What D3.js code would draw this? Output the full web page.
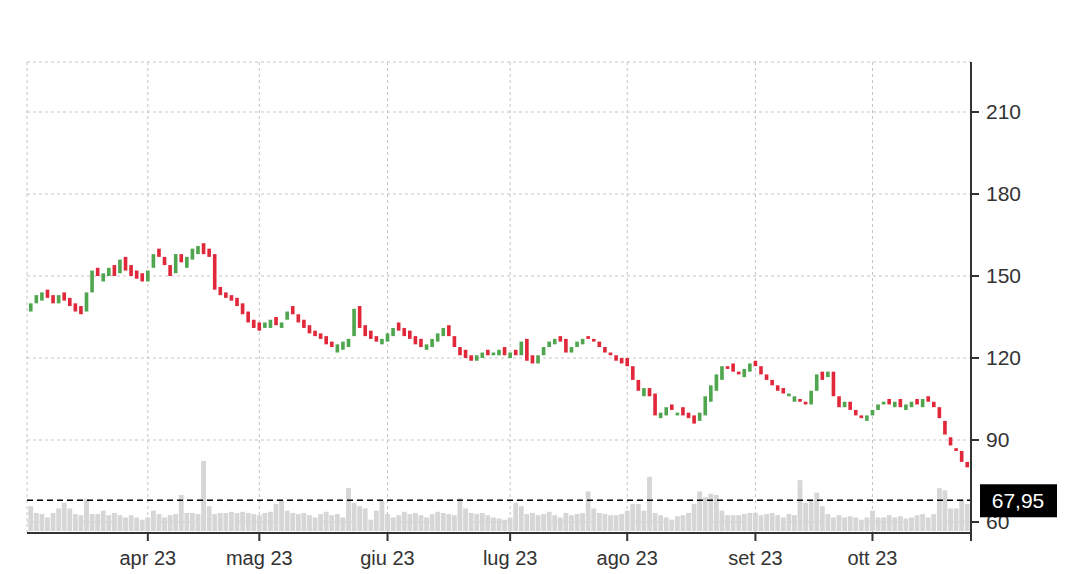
<!DOCTYPE html>
<html>
<head>
<meta charset="utf-8">
<script src="https://cdn.jsdelivr.net/npm/d3@7"></script>
<style>
  body { margin: 0; background: #fff; }
  text { font-family: "Helvetica Neue", "Liberation Sans", Arial, sans-serif; }
</style>
</head>
<body>
<div id="chart"></div>
<script>
// opens / closes per month (Mar 3 - Oct 25 2023, weekdays)
var opens = [
  137,140,141,145,143,140,144,142,140,139,137,144,153,148,150,154,151,157,154,152,151,
  148,153,160,157,154,151,158,153,156,158,162,160,158,146,144,143,142,140,137,134,
  133,131,131,135,131,134,139,136,134,132,130,129,128,126,122,123,124,128,139,132,130,128,125,
  126,128,133,131,130,128,127,123,124,126,128,132,128,124,123,121,119,120,123,121,121,124,
  120,123,121,127,121,118,121,124,125,128,127,122,124,125,128,127,126,124,122,121,120,
  120,117,112,106,109,107,98,99,103,99,102,100,99,97,99,104,108,112,117,118,115,113,115,
  119,117,114,112,110,109,106,104,105,104,103,108,115,113,115,106,102,104,101,99,97,
  99,101,103,105,102,105,101,102,105,102,106,104,102,97,91,87,86,82
];
var closes = [
  140,143,144,142,140,143,141,139,137,136,144,152,150,151,153,150,156,152,150,149,148,
  152,158,157,154,150,158,155,157,160,161,158,157,145,143,142,141,139,136,133,131,
  130,133,134,132,133,137,136,133,131,129,128,127,125,124,125,126,127,138,131,128,127,126,127,
  129,131,130,128,127,125,124,125,127,129,131,128,124,121,120,119,121,122,121,122,123,121,
  122,121,126,119,118,121,124,126,127,126,122,124,126,127,127,126,124,122,121,119,118,
  117,112,108,109,106,99,100,102,101,100,99,98,96,100,106,110,114,117,116,115,114,116,118,
  117,114,112,110,108,107,107,106,104,103,108,114,112,115,106,102,104,101,99,98,99,
  101,103,104,103,104,102,103,104,103,105,104,102,98,92,88,86,82,80
];
var volumes = [
  22,16,15,12,16,20,25,20,15,14, 28,15,15,18,14,16,14,12,14,12,
  10,12,18,15,12,14,15,32,16,16, 15,62,22,15,16,16,17,16,17,16,
  15,14,16,17,24,27,18,16,15,16, 14,12,15,17,14,15,12,38,25,22,
  20,10,18,27,15,12,14,17,15,16, 14,12,15,17,16,15,14,29,20,16,
  15,16,14,12,11,10,12,25,22,15, 16,14,15,17,14,12,16,14,15,16,
  35,20,16,15,14,14,15,18,24,24, 18,48,16,14,12,10,13,14,16,24,
  35,30,33,32,18,14,14,14,15,16, 16,14,15,16,14,12,15,14,45,25,
  27,34,22,15,12,14,12,13,12,10, 12,18,12,12,14,12,13,11,12,14,
  15,12,15,38,36,20,20,28,24
];
var priceTicks = [60, 90, 120, 150, 180, 210];
var monthLabels = ["apr 23", "mag 23", "giu 23", "lug 23", "ago 23", "set 23", "ott 23"];
var lastPrice = 67.95;

var W = 1086, H = 574;
var pLeft = 27, pRight = 971, pTop = 62, pBottom = 533;

// trading days: weekdays from 3 Mar 2023
var dates = [];
var d = new Date(2023, 2, 3);
while (dates.length < closes.length) {
  if (d.getDay() !== 0 && d.getDay() !== 6) dates.push(new Date(d));
  d.setDate(d.getDate() + 1);
}

var x = d3.scaleBand().domain(d3.range(dates.length)).range([pLeft, pRight]).padding(0.35);
var y = d3.scaleLinear().domain([60, 210]).range([522, 112]);
var yv = d3.scaleLinear().domain([0, 62]).range([531, 461]);

var svg = d3.select("#chart").append("svg").attr("width", W).attr("height", H);

// month starts
var monthIdx = [];
dates.forEach(function(dt, i) {
  if (i > 0 && dt.getMonth() !== dates[i - 1].getMonth()) monthIdx.push(i);
});
function cx(i) { return x(i) + x.bandwidth() / 2; }

// grid
svg.selectAll("line.hg").data(priceTicks.map(y).concat([pTop])).enter().append("line")
  .attr("x1", pLeft).attr("x2", pRight)
  .attr("y1", function(v) { return v; }).attr("y2", function(v) { return v; })
  .attr("stroke", "#c4c4c4").attr("stroke-dasharray", "3,3");
svg.selectAll("line.vg").data([pLeft].concat(monthIdx.map(cx))).enter().append("line")
  .attr("x1", function(v) { return v; }).attr("x2", function(v) { return v; })
  .attr("y1", pTop).attr("y2", pBottom)
  .attr("stroke", "#c4c4c4").attr("stroke-dasharray", "3,3");

// volume
svg.selectAll("rect.vol").data(volumes).enter().append("rect")
  .attr("x", function(v, i) { return x(i) - 0.6; })
  .attr("width", x.bandwidth() + 1.2)
  .attr("y", function(v) { return yv(v); })
  .attr("height", function(v) { return yv(0) - yv(v); })
  .attr("fill", "#d6d6d6");

// candles
svg.selectAll("rect.c").data(closes).enter().append("rect")
  .attr("x", function(c, i) { return x(i); })
  .attr("width", x.bandwidth())
  .attr("y", function(c, i) { return y(Math.max(c, opens[i])); })
  .attr("height", function(c, i) { return Math.max(2, Math.abs(y(c) - y(opens[i]))); })
  .attr("fill", function(c, i) { return c >= opens[i] ? "#4fa64f" : "#e0283a"; });

// last price line
svg.append("line").attr("x1", pLeft).attr("x2", pRight)
  .attr("y1", y(lastPrice)).attr("y2", y(lastPrice))
  .attr("stroke", "#000").attr("stroke-width", 1.5).attr("stroke-dasharray", "6,4");

// axes
svg.append("line").attr("x1", pLeft).attr("x2", pRight).attr("y1", pBottom).attr("y2", pBottom)
  .attr("stroke", "#333").attr("stroke-width", 2);
svg.append("line").attr("x1", pRight).attr("x2", pRight).attr("y1", pTop).attr("y2", pBottom)
  .attr("stroke", "#333").attr("stroke-width", 2);
svg.selectAll("line.xt").data(monthIdx.concat([dates.length])).enter().append("line")
  .attr("x1", function(i) { return i < dates.length ? cx(i) : pRight; })
  .attr("x2", function(i) { return i < dates.length ? cx(i) : pRight; })
  .attr("y1", pBottom).attr("y2", pBottom + 8)
  .attr("stroke", "#333").attr("stroke-width", 2);
svg.selectAll("text.xl").data(monthIdx).enter().append("text")
  .attr("x", cx).attr("y", 565).attr("text-anchor", "middle")
  .attr("font-size", 20).attr("fill", "#333")
  .text(function(i, k) { return monthLabels[k]; });
svg.selectAll("line.yt").data(priceTicks).enter().append("line")
  .attr("x1", pRight).attr("x2", pRight + 8)
  .attr("y1", function(v) { return y(v); }).attr("y2", function(v) { return y(v); })
  .attr("stroke", "#333").attr("stroke-width", 2);
svg.selectAll("text.yl").data(priceTicks).enter().append("text")
  .attr("x", 986).attr("y", function(v) { return y(v) + 7; })
  .attr("font-size", 21).attr("fill", "#333")
  .text(function(v) { return v; });

// price tag
svg.append("rect").attr("x", 980).attr("y", y(lastPrice) - 16).attr("width", 77).attr("height", 33)
  .attr("fill", "#000");
svg.append("text").attr("x", 1018).attr("y", y(lastPrice) + 8).attr("text-anchor", "middle")
  .attr("font-size", 21).attr("fill", "#fff").text(d3.format(".2f")(lastPrice).replace(".", ","));
</script>
</body>
</html>
